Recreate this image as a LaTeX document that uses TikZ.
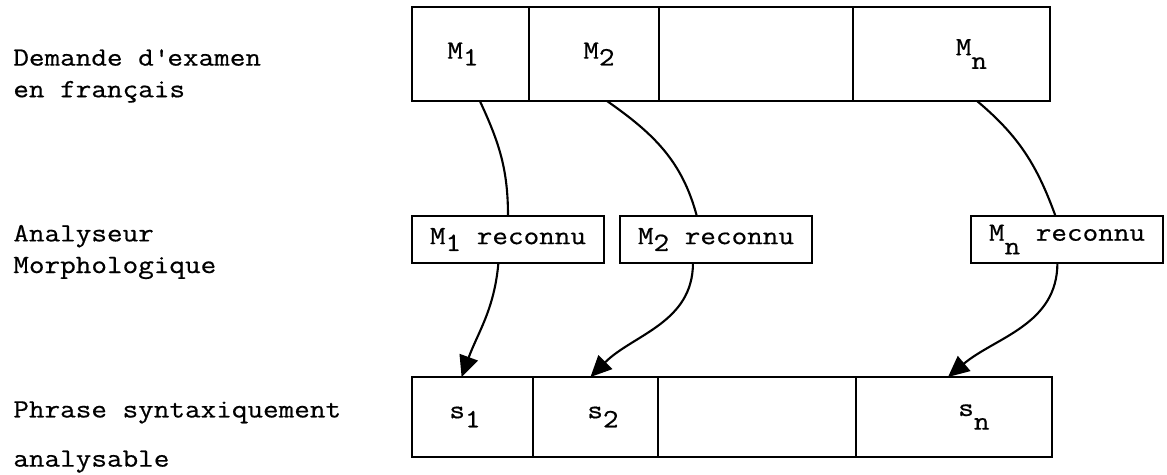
\documentclass[tikz,border=0pt]{standalone}
\usepackage{fontspec}
\setmonofont{Latin Modern Mono}[FakeStretch=1.15, FakeBold=0.6]
\usetikzlibrary{arrows.meta, positioning, calc}

\newcommand{\lowr}[2][0.6ex]{\raisebox{-#1}{#2}}

\tikzset{
  cellbox/.style={rectangle, draw=black, line width=1.3pt, inner sep=0pt,
                  outer sep=0pt, font=\ttfamily\fontsize{15}{18}\selectfont},
  topcell/.style={cellbox, minimum height=1.88cm},
  botcell/.style={cellbox, minimum height=1.6cm},
  recbox/.style={cellbox, minimum width=3.84cm, minimum height=0.94cm},
  rowlabel/.style={anchor=west, align=left, inner sep=0pt,
                   font=\ttfamily\fontsize{15}{18}\selectfont},
  link/.style={line width=1.2pt},
  arrow/.style={line width=1.2pt, -{Triangle[length=12pt,width=11pt]}}
}

\begin{document}
\begin{tikzpicture}[x=0.02cm, y=-0.02cm, node distance=0pt]
  \useasboundingbox (0,0) rectangle (1167,475);

  % row labels
  \node[rowlabel] (lreq) at (13,76) {Demande d\textquotesingle examen\\en français};
  \node[rowlabel] (lana) at (13,252) {Analyseur\\Morphologique};
  \node[rowlabel] (lphr) at (13,437) {Phrase syntaxiquement\\[10pt]analysable};

  % top strip
  \node[topcell, minimum width=2.34cm, anchor=north west] (m1) at (412,7) {M\lowr{1}\hspace*{0.3cm}};
  \node[topcell, minimum width=2.6cm, right=of m1] (m2) {\hspace*{0.2cm}M\lowr{2}};
  \node[topcell, minimum width=3.88cm, right=of m2] (m3) {};
  \node[topcell, minimum width=3.94cm, right=of m3] (m4) {\hspace*{0.8cm}M\lowr[1.2ex]{n}};

  % recognised words
  \node[recbox] (r1) at (508,239.5) {M\lowr{1} reconnu};
  \node[recbox] (r2) at (716,239.5) {M\lowr{2} reconnu};
  \node[recbox] (r3) at (1067,239.5) {M\lowr[1.2ex]{n} reconnu};

  % bottom strip
  \node[botcell, minimum width=2.42cm, anchor=north west] (s1) at (412,377) {s\lowr[0.8ex]{1}\hspace*{0.3cm}};
  \node[botcell, minimum width=2.5cm, right=of s1] (s2) {\hspace*{0.3cm}s\lowr[0.8ex]{2}};
  \node[botcell, minimum width=3.96cm, right=of s2] (s3) {};
  \node[botcell, minimum width=3.92cm, right=of s3] (s4) {\hspace*{0.8cm}s\lowr[1.2ex]{n}};

  \foreach \a/\fa/\b/\fb/\o/\i in {m1/0.58/r1/0.5/-65/90, m2/0.6/r2/0.4/-35/105, m4/0.63/r3/0.44/-40/110}
    \draw[link] ($(\a.south west)!\fa!(\a.south east)$) to[out=\o,in=\i]
                ($(\b.north west)!\fb!(\b.north east)$);

  \foreach \a/\fa/\b/\fb/\o/\i in {r1/0.45/s1/0.41/-95/70, r2/0.38/s2/0.46/-90/45, r3/0.45/s4/0.47/-90/40}
    \draw[arrow] ($(\a.south west)!\fa!(\a.south east)$) to[out=\o,in=\i]
                 ($(\b.north west)!\fb!(\b.north east)$);
\end{tikzpicture}
\end{document}
